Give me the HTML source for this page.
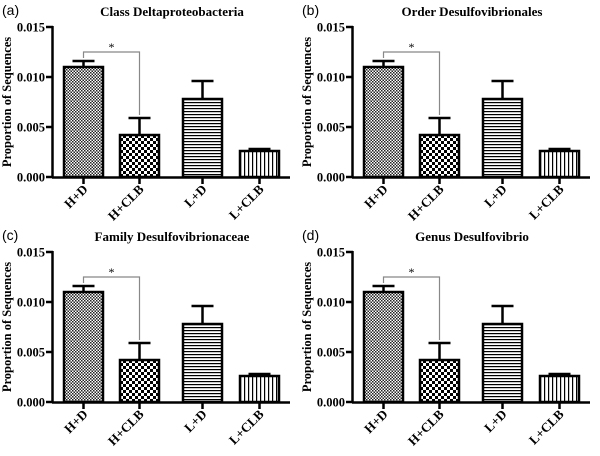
<!DOCTYPE html>
<html><head><meta charset="utf-8"><style>
body{margin:0;background:#fff;width:600px;height:451px;overflow:hidden}
text{font-family:"Liberation Serif",serif;font-weight:bold}
</style></head><body>
<svg id="s" width="600" height="451">
<defs>
<pattern id="p0" width="3" height="3" patternUnits="userSpaceOnUse"><rect width="3" height="3" fill="#fff"/><rect width="1.5" height="1.5" fill="#222"/><rect x="1.5" y="1.5" width="1.5" height="1.5" fill="#222"/></pattern>
<pattern id="p1" width="6" height="6" patternUnits="userSpaceOnUse"><rect width="6" height="6" fill="#fff"/><rect width="3" height="3" fill="#000"/><rect x="3" y="3" width="3" height="3" fill="#000"/></pattern>
<pattern id="p2" width="4" height="3" patternUnits="userSpaceOnUse"><rect width="4" height="3" fill="#fff"/><rect width="4" height="1.2" fill="#000"/></pattern>
<pattern id="p3" width="4" height="4" patternUnits="userSpaceOnUse"><rect width="4" height="4" fill="#fff"/><rect width="1.2" height="4" fill="#000"/></pattern>
</defs>
</svg>
<script>
const categories=["H+D","H+CLB","L+D","L+CLB"];
const means=[0.011,0.0042,0.0078,0.0026];
const errs=[0.0006,0.0017,0.0018,0.0002];
const ticks=[0,0.005,0.010,0.015];
const titles=["Class  Deltaproteobacteria","Order Desulfovibrionales","Family Desulfovibrionaceae","Genus Desulfovibrio"];
const letters=["(a)","(b)","(c)","(d)"];
const NS="http://www.w3.org/2000/svg";
const svg=document.getElementById('s');
function mk(t,a,p){const e=document.createElementNS(NS,t);for(const k in a)e.setAttribute(k,a[k]);(p||svg).appendChild(e);return e;}
const barX=[64,120,183,240],barW=39;
for(let p=0;p<4;p++){
 const ox=(p%2)*300, oy=Math.floor(p/2)*225;
 const g=mk('g',{transform:`translate(${ox},${oy})`});
 
 
 const y=v=>177-v/0.015*150;
 let t=mk('text',{x:2,y:15,'font-size':14,style:'font-family:Liberation Sans,sans-serif;font-weight:normal'},g);t.textContent=letters[p];
 
 t=mk('text',{x:172,y:16,'font-size':13,'text-anchor':'middle'},g);t.textContent=titles[p];
 
 mk('line',{x1:52.5,y1:26,x2:52.5,y2:178,stroke:'#000','stroke-width':2.5},g);
 mk('line',{x1:52,y1:177.5,x2:290,y2:177.5,stroke:'#000','stroke-width':2.5},g);
 ticks.forEach(v=>{mk('line',{x1:46,x2:53,y1:y(v),y2:y(v),stroke:'#000','stroke-width':2.5},g);
  const tt=mk('text',{x:45,y:y(v)+4.5,'font-size':12.5,'text-anchor':'end'},g);tt.textContent=v.toFixed(3);
  });
 t=mk('text',{x:0,y:0,'font-size':12.5,'text-anchor':'middle',transform:'translate(11,102) rotate(-90)'},g);t.textContent='Proportion of Sequences';
 
 categories.forEach((c,i)=>{
  const cx=barX[i]+barW/2;
  const top=y(means[i]+errs[i]);
  mk('line',{x1:cx,x2:cx,y1:y(means[i]),y2:top,stroke:'#000','stroke-width':2.5},g);
  mk('line',{x1:cx-11,x2:cx+11,y1:top,y2:top,stroke:'#000','stroke-width':2.5},g);
  const r=mk('rect',{x:barX[i],y:y(means[i]),width:barW,height:177-y(means[i]),fill:`url(#p${i})`,stroke:'#000','stroke-width':2.5},g);
  
  
  mk('line',{x1:cx,x2:cx,y1:178,y2:184,stroke:'#000','stroke-width':2.5},g);
  const l=mk('text',{x:0,y:0,'font-size':13,'text-anchor':'end',transform:`translate(${cx+5},${190}) rotate(-45)`},g);l.textContent=c;
  
 });
 const c0=barX[0]+barW/2,c1=barX[1]+barW/2,by=52;
 const br=mk('polyline',{points:`${c0},${y(means[0]+errs[0])-3} ${c0},${by} ${c1},${by} ${c1},${y(means[1]+errs[1])-3}`,fill:'none',stroke:'#888','stroke-width':1.2},g);
 
 t=mk('text',{x:(c0+c1)/2,y:51,'font-size':12,'text-anchor':'middle',style:'font-weight:normal'},g);t.textContent='*';
 
}
</script>
</body></html>
